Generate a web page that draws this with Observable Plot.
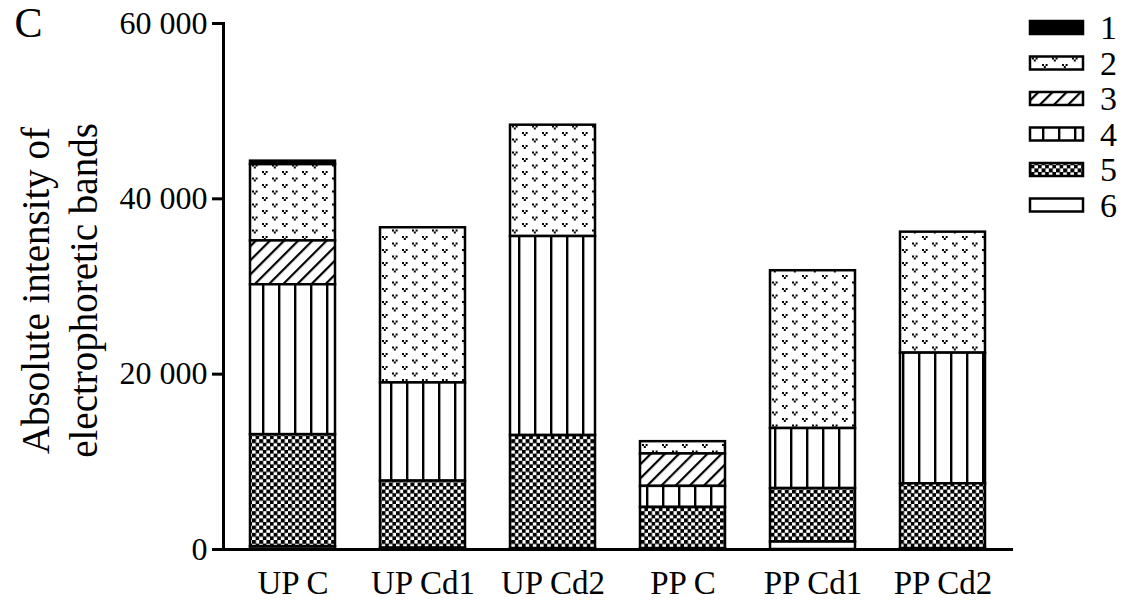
<!DOCTYPE html>
<html><head><meta charset="utf-8">
<script src="https://cdn.jsdelivr.net/npm/d3@7"></script>
<script src="https://cdn.jsdelivr.net/npm/@observablehq/plot@0.6"></script>
<style>
body{margin:0;background:#fff;}
#wrap{position:relative;width:1140px;height:605px;}
#wrap svg{position:absolute;left:0;top:0;}
</style></head><body><div id="wrap"></div>
<script>
const groups = ["UP C", "UP Cd1", "UP Cd2", "PP C", "PP Cd1", "PP Cd2"];
const bands = ["1", "2", "3", "4", "5", "6"];
const band1 = [400, 0, 0, 0, 0, 0];
const band2 = [8700, 17700, 12700, 1400, 18000, 13800];
const band3 = [5000, 0, 0, 3700, 0, 0];
const band4 = [17100, 11200, 22700, 2400, 6850, 14900];
const band5 = [12800, 7650, 12900, 4700, 6100, 7400];
const band6 = [300, 150, 100, 100, 850, 100];
const yTicks = [0, 20000, 40000, 60000];
const yLabel = ["Absolute intensity of", "electrophoretic bands"];
const panelLetter = "C";
const bandFills = ["#000", "url(#p2)", "url(#p3)", "url(#p4)", "url(#p5)", "#fff"];

const series = [band1, band2, band3, band4, band5, band6];
const data = groups.flatMap((g, i) => bands.map((b, j) => ({group: g, band: b, value: series[j][i]})));

const wrap = d3.select("#wrap");
// pattern definitions
const defs = wrap.append("svg").attr("width", 0).attr("height", 0).append("defs");
const p2 = defs.append("pattern").attr("id", "p2").attr("patternUnits", "userSpaceOnUse")
  .attr("width", 20).attr("height", 13);
p2.append("rect").attr("width", 20).attr("height", 13).attr("fill", "#fff");
for (const [ox, oy] of [[2, 2], [12, 8.5]]) {
  for (const [dx, dy] of [[0, 0], [3.6, 0], [1.8, 2]]) {
    p2.append("rect").attr("x", ox + dx).attr("y", oy + dy).attr("width", 2).attr("height", 2).attr("fill", "#000");
  }
}
const p3 = defs.append("pattern").attr("id", "p3").attr("patternUnits", "userSpaceOnUse")
  .attr("width", 10).attr("height", 10).attr("patternTransform", "rotate(45)");
p3.append("rect").attr("width", 10).attr("height", 10).attr("fill", "#fff");
p3.append("rect").attr("x", 0).attr("width", 2.2).attr("height", 10).attr("fill", "#000");
const p4 = defs.append("pattern").attr("id", "p4").attr("patternUnits", "userSpaceOnUse")
  .attr("width", 16).attr("height", 10).attr("x", 6);
p4.append("rect").attr("width", 16).attr("height", 10).attr("fill", "#fff");
p4.append("rect").attr("x", 0).attr("width", 2.4).attr("height", 10).attr("fill", "#000");
const c = 3.6;
const p5 = defs.append("pattern").attr("id", "p5").attr("patternUnits", "userSpaceOnUse")
  .attr("width", 2 * c).attr("height", 2 * c);
p5.append("rect").attr("width", 2 * c).attr("height", 2 * c).attr("fill", "#fff");
p5.append("rect").attr("width", c + 0.4).attr("height", c + 0.4).attr("fill", "#000");
p5.append("rect").attr("x", c).attr("y", c).attr("width", c + 0.4).attr("height", c + 0.4).attr("fill", "#000");

const fmt = d => d3.format(",")(d).replace(/,/g, " ");

const chart = Plot.plot({
  width: 1140,
  height: 605,
  marginLeft: 223,
  marginRight: 127,
  marginTop: 23,
  marginBottom: 56,
  style: {fontFamily: "'Liberation Serif', 'Times New Roman', serif", fontSize: "32px", color: "#000", background: "transparent"},
  x: {domain: groups, paddingInner: 0.345, paddingOuter: 0.19, label: null},
  y: {domain: [0, 60000], label: null},
  color: {domain: bands, range: bandFills},
  marks: [
    Plot.barY(data, {x: "group", y: "value", fill: "band", order: ["6", "5", "4", "3", "2", "1"], stroke: "#000", strokeWidth: 2.5}),
    Plot.frame({anchor: "left", strokeWidth: 3}),
    Plot.ruleY([0], {strokeWidth: 3}),
    Plot.axisY({ticks: yTicks, tickFormat: fmt, tickSize: 11, tickPadding: 5, strokeWidth: 3, fontSize: 32, label: null}),
    Plot.axisX({tickSize: 0, tickPadding: 21, fontSize: 33, label: null}),
    Plot.text([yLabel.join("\n")], {text: d => d, frameAnchor: "left", rotate: -90, dx: -166, dy: 4, fontSize: 39, lineHeight: 1.25, textAnchor: "middle", lineAnchor: "middle"}),
    Plot.text([panelLetter], {text: d => d, frameAnchor: "top-left", dx: -195, dy: 0, fontSize: 42, textAnchor: "middle", lineAnchor: "middle"})
  ]
});
wrap.node().appendChild(chart);

// legend
const leg = wrap.append("svg").attr("width", 120).attr("height", 230).style("left", "1020px").style("top", "10px");
bands.forEach((b, i) => {
  const y = 11 + i * 35.5;
  leg.append("rect").attr("x", 10).attr("y", y).attr("width", 53).attr("height", 13)
    .attr("fill", bandFills[i]).attr("stroke", "#000").attr("stroke-width", 2.5);
  leg.append("text").attr("x", 80).attr("y", y + 6.5).attr("dy", "0.35em")
    .attr("font-family", "'Liberation Serif', 'Times New Roman', serif").attr("font-size", 34).text(b);
});
</script></body></html>
